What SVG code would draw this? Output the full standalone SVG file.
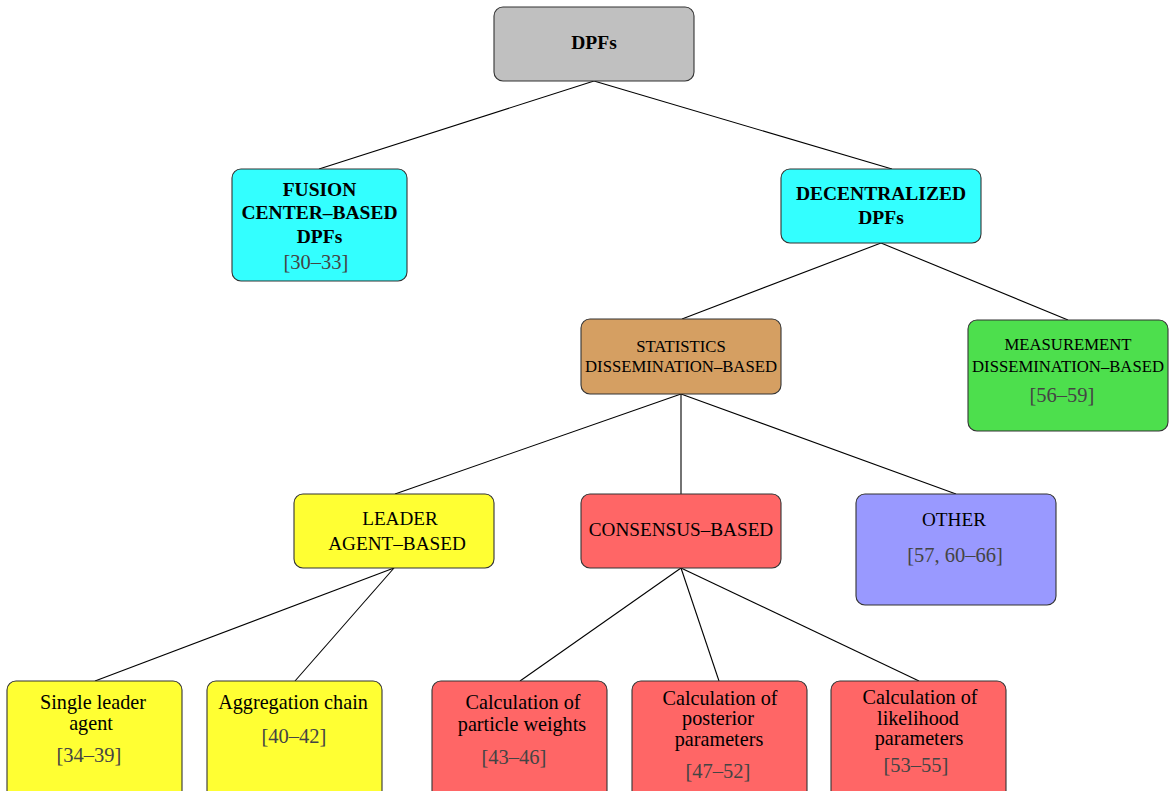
<svg xmlns="http://www.w3.org/2000/svg" width="1171" height="791" viewBox="0 0 1171 791">
<style>
.box{stroke:#333;stroke-width:1.1}
.t{font-family:"Liberation Serif","Times New Roman",serif;fill:#000;text-anchor:middle}
.b{font-weight:bold;font-size:19.5px}
.s{font-size:16.7px}
.m{font-size:19.2px}
.l{font-size:20.2px}
.c{font-family:"Liberation Serif","Times New Roman",serif;fill:#444;font-size:20.5px;text-anchor:middle}
.e{stroke:#000;stroke-width:1.1;fill:none}
</style>
<rect width="1171" height="791" fill="#fff"/>
<g id="connectors">
<line class="e" x1="594" y1="81" x2="319" y2="169"/>
<line class="e" x1="594" y1="81" x2="892" y2="169"/>
<line class="e" x1="881" y1="243" x2="682" y2="319"/>
<line class="e" x1="881" y1="243" x2="1068" y2="320"/>
<line class="e" x1="681" y1="394" x2="395" y2="494"/>
<line class="e" x1="681" y1="394" x2="681" y2="494"/>
<line class="e" x1="681" y1="394" x2="956" y2="494"/>
<line class="e" x1="394" y1="568" x2="95" y2="681"/>
<line class="e" x1="394" y1="568" x2="295" y2="681"/>
<line class="e" x1="681" y1="568" x2="520" y2="681"/>
<line class="e" x1="681" y1="568" x2="719" y2="681"/>
<line class="e" x1="681" y1="568" x2="919" y2="681"/>
</g>
<g id="dpfs">
<rect class="box" x="494" y="7" width="200" height="74" rx="9" fill="#c0c0c0"/>
<text class="t b" x="594" y="49">DPFs</text>
</g>
<g id="fusion">
<rect class="box" x="232" y="169" width="175" height="112" rx="9" fill="#33ffff"/>
<text class="t b" x="319.5" y="196">FUSION</text>
<text class="t b" x="319.5" y="219">CENTER–BASED</text>
<text class="t b" x="319.5" y="243">DPFs</text>
<text class="c" x="316" y="269">[30–33]</text>
</g>
<g id="decentralized">
<rect class="box" x="781" y="169" width="200" height="74" rx="9" fill="#33ffff"/>
<text class="t b" x="881" y="200">DECENTRALIZED</text>
<text class="t b" x="881" y="224">DPFs</text>
</g>
<g id="statistics">
<rect class="box" x="581" y="319" width="200" height="75" rx="9" fill="#d59f62"/>
<text class="t s" x="681" y="352">STATISTICS</text>
<text class="t s" x="681" y="372">DISSEMINATION–BASED</text>
</g>
<g id="measurement">
<rect class="box" x="968" y="320" width="200" height="111" rx="9" fill="#4ddf4d"/>
<text class="t s" x="1068" y="350">MEASUREMENT</text>
<text class="t s" x="1068" y="372">DISSEMINATION–BASED</text>
<text class="c" x="1062" y="402">[56–59]</text>
</g>
<g id="leader">
<rect class="box" x="294" y="494" width="200" height="74" rx="9" fill="#ffff33"/>
<text class="t m" x="400" y="525">LEADER</text>
<text class="t m" x="397" y="550">AGENT–BASED</text>
</g>
<g id="consensus">
<rect class="box" x="581" y="494" width="200" height="74" rx="9" fill="#ff6666"/>
<text class="t m" x="681" y="536">CONSENSUS–BASED</text>
</g>
<g id="other">
<rect class="box" x="856" y="494" width="200" height="111" rx="9" fill="#9999ff"/>
<text class="t m" x="954" y="526">OTHER</text>
<text class="c" x="955" y="562">[57, 60–66]</text>
</g>
<g id="single">
<rect class="box" x="7" y="681" width="175" height="125" rx="9" fill="#ffff33"/>
<text class="t l" x="93" y="709">Single leader</text>
<text class="t l" x="91" y="730">agent</text>
<text class="c" x="89" y="762">[34–39]</text>
</g>
<g id="aggregation">
<rect class="box" x="207" y="681" width="175" height="125" rx="9" fill="#ffff33"/>
<text class="t l" x="293" y="709">Aggregation chain</text>
<text class="c" x="294" y="743">[40–42]</text>
</g>
<g id="weights">
<rect class="box" x="432" y="681" width="175" height="125" rx="9" fill="#ff6666"/>
<text class="t l" x="523" y="709">Calculation of</text>
<text class="t l" x="522" y="731">particle weights</text>
<text class="c" x="514" y="764">[43–46]</text>
</g>
<g id="posterior">
<rect class="box" x="632" y="681" width="175" height="125" rx="9" fill="#ff6666"/>
<text class="t l" x="720" y="705">Calculation of</text>
<text class="t l" x="718" y="725">posterior</text>
<text class="t l" x="719" y="746">parameters</text>
<text class="c" x="718" y="778">[47–52]</text>
</g>
<g id="likelihood">
<rect class="box" x="831" y="681" width="175" height="125" rx="9" fill="#ff6666"/>
<text class="t l" x="920" y="704">Calculation of</text>
<text class="t l" x="918" y="725">likelihood</text>
<text class="t l" x="919" y="745">parameters</text>
<text class="c" x="916" y="772">[53–55]</text>
</g>
</svg>
